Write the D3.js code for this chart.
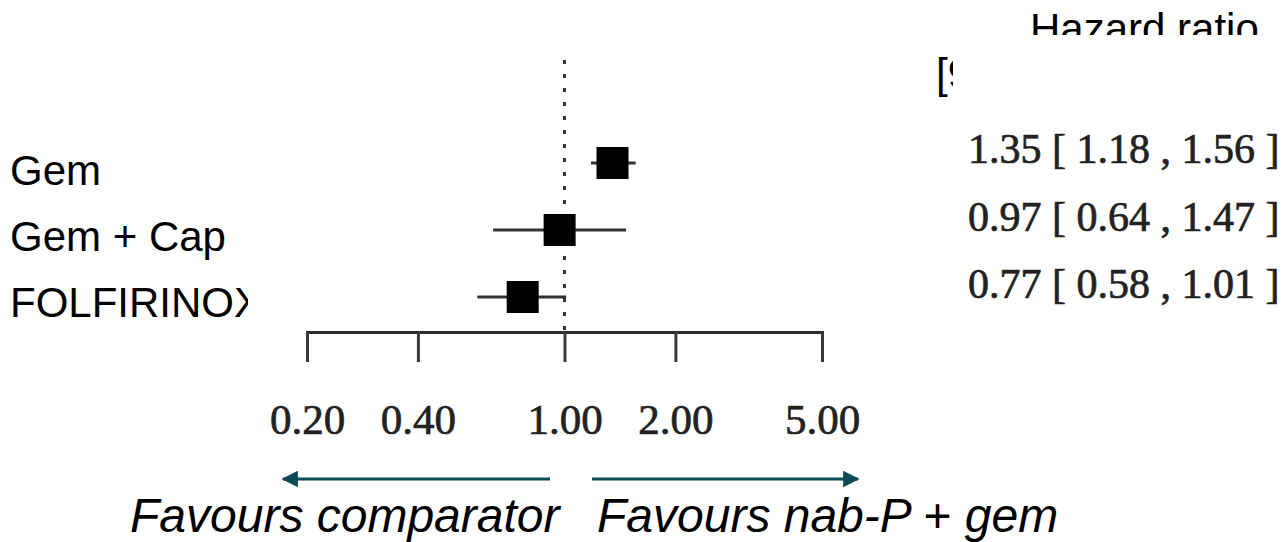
<!DOCTYPE html>
<html>
<head>
<meta charset="utf-8">
<script src="https://cdn.jsdelivr.net/npm/d3@7"></script>
<style>
  body { margin: 0; background: #fff; }
  svg { display: block; }
</style>
</head>
<body>
<script>
  var studies = ["Gem", "Gem + Cap", "FOLFIRINOX"];
  var hazard = [1.35, 0.97, 0.77];
  var lower = [1.18, 0.64, 0.58];
  var upper = [1.56, 1.47, 1.01];
  var tickValues = [0.2, 0.4, 1, 2, 5];
  var tickLabels = ["0.20", "0.40", "1.00", "2.00", "5.00"];
  var header = "Hazard ratio";
  var subHeader = "[95% CI]";
  var leftNote = "Favours comparator";
  var rightNote = ["Favours nab-P ", "+", " gem"];

  var width = 1287, height = 542;
  var axisY = 332;

  var dataset = studies.map(function(s, i) {
    return { study: s, hr: hazard[i], lo: lower[i], hi: upper[i] };
  });

  var xScale = d3.scaleLog()
      .domain([0.2, 5])
      .range([307, 822]);

  // each column sits at a slightly different height in the original
  var yMark = d3.scalePoint().domain(studies).range([163, 297]);
  var yLabel = d3.scalePoint().domain(studies).range([185, 317]);
  var yTable = d3.scalePoint().domain(studies).range([163, 298]);

  var svg = d3.select("body").append("svg")
      .attr("width", width)
      .attr("height", height);

  var defs = svg.append("defs");
  defs.append("clipPath").attr("id", "labelClip")
    .append("rect").attr("x", 0).attr("y", 0).attr("width", 248).attr("height", height);
  defs.append("clipPath").attr("id", "headClip")
    .append("rect").attr("x", 900).attr("y", 0).attr("width", 387).attr("height", 35);
  defs.append("clipPath").attr("id", "subClip")
    .append("rect").attr("x", 900).attr("y", 40).attr("width", 53).attr("height", 80);
  defs.append("marker")
      .attr("id", "arrowHead")
      .attr("viewBox", "0 0 10 10")
      .attr("refX", 9).attr("refY", 5)
      .attr("markerWidth", 5.5).attr("markerHeight", 5.5)
      .attr("orient", "auto-start-reverse")
    .append("path")
      .attr("d", "M0,0L10,5L0,10Z")
      .attr("fill", "#0b4b55");

  // study labels
  svg.append("g")
      .attr("clip-path", "url(#labelClip)")
    .selectAll("text")
      .data(dataset)
    .enter().append("text")
      .attr("x", 10)
      .attr("y", function(d) { return yLabel(d.study); })
      .attr("font-family", "Liberation Sans, Arial, sans-serif")
      .attr("font-size", 42)
      .attr("fill", "#000")
      .text(function(d) { return d.study; });

  // reference line at HR = 1
  svg.append("line")
      .attr("x1", xScale(1)).attr("x2", xScale(1))
      .attr("y1", 60).attr("y2", axisY)
      .attr("stroke", "#333")
      .attr("stroke-width", 3)
      .attr("stroke-dasharray", "4,10");

  // axis
  var axis = svg.append("g")
      .attr("class", "x axis")
      .attr("transform", "translate(0," + axisY + ")")
      .call(d3.axisBottom(xScale)
            .tickValues(tickValues)
            .tickFormat(function(d, i) { return tickLabels[i]; })
            .tickSize(30)
            .tickPadding(41));
  axis.select(".domain").attr("stroke", "#2b2b2b").attr("stroke-width", 3);
  axis.selectAll(".tick line").attr("stroke", "#3a3a3a").attr("stroke-width", 3);
  axis.selectAll(".tick text")
      .attr("font-family", "Liberation Serif, Times New Roman, serif")
      .attr("font-size", 43)
      .attr("fill", "#222")
      .attr("stroke", "#222")
      .attr("stroke-width", 0.7);

  // confidence intervals
  svg.selectAll(".ci")
      .data(dataset)
    .enter().append("line")
      .attr("class", "ci")
      .attr("x1", function(d) { return xScale(d.lo); })
      .attr("x2", function(d) { return xScale(d.hi); })
      .attr("y1", function(d) { return yMark(d.study); })
      .attr("y2", function(d) { return yMark(d.study); })
      .attr("stroke", "#333")
      .attr("stroke-width", 3);

  var box = 32;
  svg.selectAll(".dot")
      .data(dataset)
    .enter().append("rect")
      .attr("class", "dot")
      .attr("x", function(d) { return xScale(d.hr) - box / 2; })
      .attr("y", function(d) { return yMark(d.study) - box / 2; })
      .attr("width", box)
      .attr("height", box)
      .attr("fill", "#000");

  // right-hand table
  svg.append("text")
      .attr("clip-path", "url(#headClip)")
      .attr("x", 1030).attr("y", 43)
      .attr("font-family", "Liberation Sans, Arial, sans-serif")
      .attr("font-size", 42)
      .text(header);
  svg.append("text")
      .attr("clip-path", "url(#subClip)")
      .attr("x", 936).attr("y", 88)
      .attr("font-family", "Liberation Sans, Arial, sans-serif")
      .attr("font-size", 42)
      .text(subHeader);

  var fmt = d3.format(".2f");
  svg.selectAll(".est")
      .data(dataset)
    .enter().append("text")
      .attr("class", "est")
      .attr("x", 968)
      .attr("y", function(d) { return yTable(d.study); })
      .attr("font-family", "Liberation Serif, Times New Roman, serif")
      .attr("font-size", 42)
      .attr("fill", "#222")
      .attr("stroke", "#222")
      .attr("stroke-width", 0.7)
      .attr("xml:space", "preserve")
      .text(function(d) { return fmt(d.hr) + " [ " + fmt(d.lo) + " , " + fmt(d.hi) + " ]"; });

  // favours arrows
  var arrowY = 479;
  svg.append("line")
      .attr("x1", 550).attr("x2", 283)
      .attr("y1", arrowY).attr("y2", arrowY)
      .attr("stroke", "#0b4b55").attr("stroke-width", 3)
      .attr("marker-end", "url(#arrowHead)");
  svg.append("line")
      .attr("x1", 592).attr("x2", 858)
      .attr("y1", arrowY).attr("y2", arrowY)
      .attr("stroke", "#0b4b55").attr("stroke-width", 3)
      .attr("marker-end", "url(#arrowHead)");

  svg.append("text")
      .attr("x", 130).attr("y", 532)
      .attr("font-family", "Liberation Sans, Arial, sans-serif")
      .attr("font-style", "italic")
      .attr("font-size", 48)
      .text(leftNote);

  var rt = svg.append("text")
      .attr("x", 597).attr("y", 532)
      .attr("font-family", "Liberation Sans, Arial, sans-serif")
      .attr("font-size", 48)
      .attr("xml:space", "preserve");
  rt.selectAll("tspan")
      .data(rightNote)
    .enter().append("tspan")
      .attr("font-style", function(d) { return d === "+" ? "normal" : "italic"; })
      .text(function(d) { return d; });
</script>
</body>
</html>
